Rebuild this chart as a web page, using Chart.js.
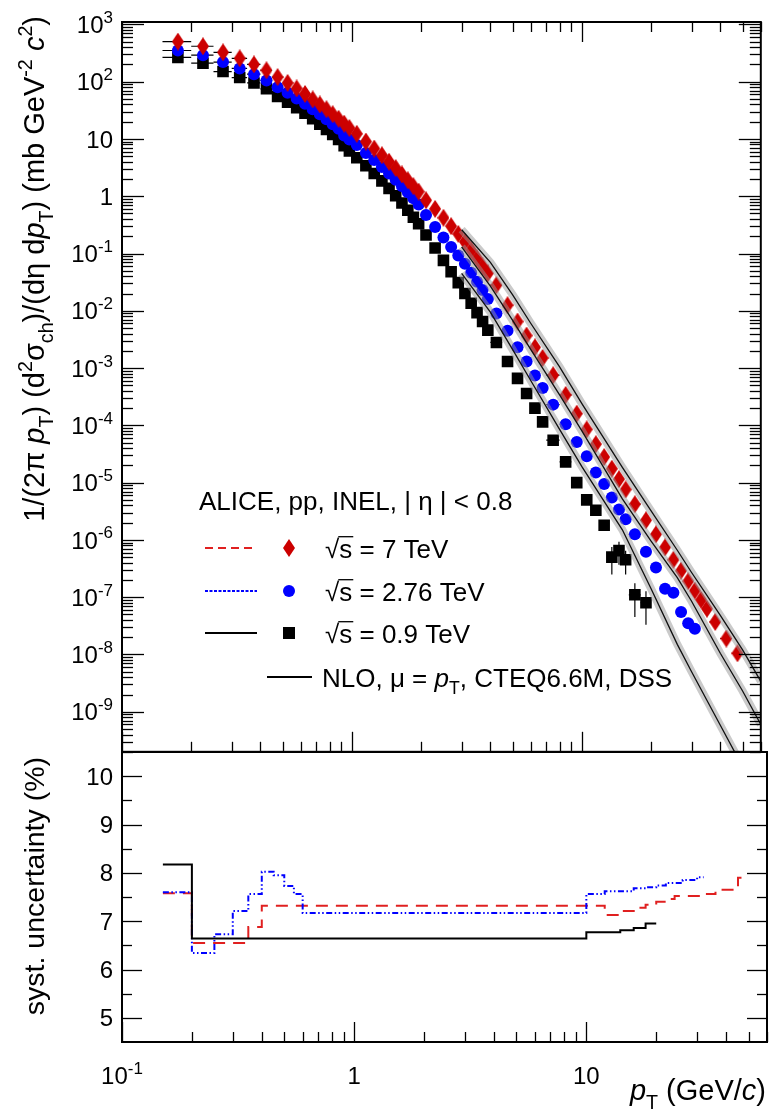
<!DOCTYPE html>
<html>
<head>
<meta charset="utf-8">
<script src="https://cdn.jsdelivr.net/npm/chart.js@4.4.0/dist/chart.umd.min.js"></script>
<style>
  html, body { margin: 0; padding: 0; background: #fff; }
  #wrap { position: relative; width: 769px; height: 1115px; overflow: hidden; }
  #top { position: absolute; left: 0; top: 0; }
  #bot { position: absolute; left: 0; top: 745px; }
</style>
</head>
<body>
<div id="wrap">
  <canvas id="top" width="769" height="760"></canvas>
  <canvas id="bot" width="769" height="370"></canvas>
</div>
<script>
// pT bin edges (GeV/c)
const ptEdges = [0.15, 0.2, 0.25, 0.3, 0.35, 0.4, 0.45, 0.5, 0.55, 0.6, 0.65, 0.7, 0.75, 0.8, 0.85, 0.9, 0.95, 1.0,
  1.1, 1.2, 1.3, 1.4, 1.5, 1.6, 1.7, 1.8, 1.9, 2.0,
  2.2, 2.4, 2.6, 2.8, 3.0, 3.2, 3.4, 3.6, 3.8, 4.0,
  4.5, 5.0, 5.5, 6.0, 6.5, 7.0, 8, 9, 10,
  11, 12, 13, 14, 15, 16, 18, 20,
  22, 24, 26, 28, 30, 32, 34, 36, 40, 45, 50];

// invariant cross sections (mb GeV^-2 c^2)
const spec7 = [500, 415, 325, 255, 200, 158, 120, 95, 76, 61, 49, 40, 33, 27, 22.5, 18.5, 15.5,
  12.3, 9.0, 6.8, 5.2, 4.0, 3.1, 2.4, 1.9, 1.5, 1.2,
  0.85, 0.6, 0.42, 0.30, 0.22, 0.16, 0.115, 0.083, 0.060, 0.045,
  0.028, 0.0125, 0.0065, 0.0037, 0.0023, 0.0015, 7.5e-4, 3.4e-4, 1.6e-4,
  8.5e-5, 4.7e-5, 2.8e-5, 1.75e-5, 1.15e-5, 7.6e-6, 4.2e-6, 2.2e-6,
  1.25e-6, 7.4e-7, 4.5e-7, 2.9e-7, 1.9e-7, 1.3e-7, 9e-8, 6.3e-8, 3.7e-8, 1.9e-8, 1.05e-8];
const spec276 = [350, 290, 220, 170, 135, 105, 80, 64, 51, 41, 33, 27, 22, 18, 15, 11.5, 9.8,
  7.8, 5.7, 4.3, 3.25, 2.5, 1.93, 1.5, 1.17, 0.92, 0.72,
  0.47, 0.29, 0.19, 0.13, 0.092, 0.066, 0.046, 0.032, 0.023, 0.016,
  0.009, 0.0045, 0.0023, 0.0013, 7.4e-4, 4.5e-4, 2.3e-4, 1.05e-4, 5.1e-5,
  2.9e-5, 1.5e-5, 9.5e-6, 5.5e-6, 3.4e-6, 2.3e-6, 1.25e-6, 6.2e-7,
  3.3e-7, 1.4e-7, 1.2e-7, 5.5e-8, 3.5e-8, 2.8e-8];
const spec09 = [265, 210, 150, 118, 95, 75, 55, 44, 35, 28, 22.5, 18, 14.7, 12, 9.8, 7.6, 6.2,
  4.7, 3.4, 2.5, 1.85, 1.37, 1.02, 0.76, 0.57, 0.43, 0.33,
  0.21, 0.125, 0.076, 0.048, 0.031, 0.020, 0.0135, 0.0093, 0.0065, 0.0046,
  0.0028, 0.0013, 6.6e-4, 3.6e-4, 2.0e-4, 1.15e-4, 5.5e-5, 2.3e-5, 1.0e-5,
  5.0e-6, 3.3e-6, 1.8e-6, 5.0e-7, 6.5e-7, 4.5e-7, 1.1e-7, 8e-8];
// statistical errors of the last bins (absolute)
const errTail276 = [5e-9, 4e-9, 4e-9];
const errTail09 = [3e-7, 3e-7, 2.5e-7, 2.8e-7, 2e-7, 6.5e-8, 4.7e-8];

// NLO pQCD curves
const nloPt = [3, 4, 5, 6, 8, 10, 15, 20, 26, 30, 40, 50, 60];
const nlo7 = [0.26, 0.07, 0.019, 0.006, 0.00105, 2.4e-4, 1.85e-5, 3.2e-6, 6.6e-7, 2.7e-7, 4.8e-8, 1.2e-8, 3.4e-9];
const nlo276 = [0.13, 0.027, 0.0068, 0.0021, 3.4e-4, 8e-5, 5.2e-6, 9.5e-7, 2.2e-7, 8.5e-8, 1.05e-8, 2.3e-9, 6e-10];
const nlo09 = [0.045, 0.0095, 0.0021, 6e-4, 8.5e-5, 1.9e-5, 1.5e-6, 1.4e-7, 1.5e-8, 5e-9, 5.8e-10, 1.1e-10, 2.8e-11];

// systematic uncertainty (%) per pT interval
const sys7Edges = [0.15, 0.2, 0.35, 0.4, 12, 14, 16, 18, 20, 22, 24, 32, 36, 45, 50];
const sys7 = [7.58, 6.55, 6.88, 7.32, 7.13, 7.21, 7.28, 7.34, 7.40, 7.46, 7.52, 7.56, 7.65, 7.9];
const sys276Edges = [0.15, 0.2, 0.25, 0.3, 0.35, 0.4, 0.45, 0.5, 0.55, 0.6, 10, 12, 16, 18, 20, 22, 26, 30, 32];
const sys276 = [7.6, 6.34, 6.73, 7.21, 7.56, 8.02, 7.95, 7.73, 7.56, 7.17, 7.56, 7.62, 7.68, 7.70, 7.74, 7.79, 7.85, 7.91];
const sys09Edges = [0.15, 0.2, 10, 14, 16, 18, 20];
const sys09 = [8.17, 6.64, 6.77, 6.81, 6.86, 6.95];

// tick labels
const specDecades = [-9, -8, -7, -6, -5, -4, -3, -2, -1, 0, 1, 2, 3];
const sysTickLabels = [5, 6, 7, 8, 9, 10];
const ptTickLabels = [0.1, 1, 10];

const FAM = '"Liberation Sans", Arial, Helvetica, sans-serif';
const RED = '#cc0000', BLUE = '#0000ff';

function points(vals, tailErr) {
  const nt = tailErr ? tailErr.length : 0;
  return vals.map((v, i) => {
    const k = i - (vals.length - nt);
    return { x: (ptEdges[i] + ptEdges[i + 1]) / 2, y: v, xlo: ptEdges[i], xhi: ptEdges[i + 1], err: k >= 0 ? tailErr[k] : 0 };
  });
}
function steps(edges, vals) {
  const d = vals.map((v, i) => ({ x: edges[i], y: v }));
  d.push({ x: edges[edges.length - 1], y: vals[vals.length - 1] });
  return d;
}
function curve(xs, ys) { return xs.map((x, i) => ({ x: x, y: ys[i] })); }

function diamond(w, h, color) {
  const c = document.createElement('canvas');
  c.width = w; c.height = h;
  const g = c.getContext('2d');
  g.fillStyle = color;
  g.beginPath();
  g.moveTo(w / 2, 0); g.lineTo(w, h / 2); g.lineTo(w / 2, h); g.lineTo(0, h / 2);
  g.closePath(); g.fill();
  return c;
}
const diamondImg = diamond(12, 18, RED);

// text with sub/superscripts; parts = [[text, mode]]
function rich(ctx, x, y, parts, size, align) {
  const spec = (m) => {
    const small = m === 'sub' || m === 'sup';
    const s = small ? size * 0.68 : size;
    return {
      font: (m === 'i' ? 'italic ' : '') + s + 'px ' + FAM,
      dy: m === 'sub' ? size * 0.3 : m === 'sup' ? -size * 0.42 : 0
    };
  };
  let total = 0;
  parts.forEach(p => { ctx.font = spec(p[1]).font; total += ctx.measureText(p[0]).width; });
  let cx = align === 'right' ? x - total : align === 'center' ? x - total / 2 : x;
  ctx.textAlign = 'left';
  ctx.textBaseline = 'alphabetic';
  parts.forEach(p => {
    const s = spec(p[1]);
    ctx.font = s.font;
    const w = ctx.measureText(p[0]).width;
    ctx.fillText(p[0], cx, y + s.dy);
    if (p[1] === 'ov') {
      ctx.save(); ctx.lineWidth = 1.3; ctx.beginPath();
      ctx.moveTo(cx - 1, y - size * 0.8); ctx.lineTo(cx + w + 1, y - size * 0.8); ctx.stroke(); ctx.restore();
    }
    cx += w;
  });
  return total;
}

function line(ctx, x1, y1, x2, y2) { ctx.beginPath(); ctx.moveTo(x1, y1); ctx.lineTo(x2, y2); ctx.stroke(); }

function logTicks(lo, hi) {
  const out = [];
  for (let d = Math.floor(Math.log10(lo)) - 1; d <= Math.ceil(Math.log10(hi)); d++) {
    for (let m = 1; m <= 9; m++) {
      const v = m * Math.pow(10, d);
      if (v >= lo * 0.999 && v <= hi * 1.001) out.push({ v: v, major: m === 1 });
    }
  }
  return out;
}

function powLabel(ctx, d, xRight, yMid, xCenter) {
  const base = d === 0 ? '1' : '10';
  const exp = (d === 0 || d === 1) ? '' : String(d);
  ctx.font = '24px ' + FAM;
  const wb = ctx.measureText(base).width;
  ctx.font = '17px ' + FAM;
  const we = exp ? ctx.measureText(exp).width : 0;
  const x0 = xCenter !== undefined ? xCenter - (wb + we) / 2 : xRight - wb - we;
  ctx.textAlign = 'left'; ctx.textBaseline = 'alphabetic';
  ctx.font = '24px ' + FAM;
  ctx.fillText(base, x0, yMid + 8.6);
  if (exp) { ctx.font = '17px ' + FAM; ctx.fillText(exp, x0 + wb, yMid - 1.5); }
}

// ---------- error bars (drawn under markers) ----------
const errorBars = {
  id: 'errorBars',
  beforeDatasetsDraw(chart) {
    const ctx = chart.ctx, xs = chart.scales.x, ys = chart.scales.y, a = chart.chartArea;
    ctx.save();
    ctx.beginPath(); ctx.rect(a.left, a.top, a.right - a.left, a.bottom - a.top); ctx.clip();
    ctx.strokeStyle = '#000'; ctx.lineWidth = 1.2;
    chart.data.datasets.forEach(ds => {
      if (!ds.errBars) return;
      ds.data.forEach(p => {
        const py = ys.getPixelForValue(p.y);
        line(ctx, xs.getPixelForValue(p.xlo), py, xs.getPixelForValue(p.xhi), py);
        if (p.err > 0) {
          const px = xs.getPixelForValue(p.x);
          const lo = Math.max(p.y - p.err, ys.min);
          line(ctx, px, ys.getPixelForValue(p.y + p.err), px, ys.getPixelForValue(lo));
        }
      });
    });
    ctx.restore();
  }
};

// ---------- frame, ticks, labels, legend of the spectrum panel ----------
const topDecor = {
  id: 'topDecor',
  afterDraw(chart) {
    const ctx = chart.ctx, xs = chart.scales.x, ys = chart.scales.y;
    const { left, right, top, bottom } = chart.chartArea;
    ctx.save();
    ctx.strokeStyle = '#000'; ctx.fillStyle = '#000'; ctx.lineWidth = 1.3;
    logTicks(ys.min, ys.max).forEach(t => {
      const py = Math.round(ys.getPixelForValue(t.v)) + 0.5;
      const L = t.major ? 22 : 11;
      line(ctx, left, py, left + L, py);
      line(ctx, right, py, right - L, py);
    });
    logTicks(xs.min, xs.max).forEach(t => {
      const px = Math.round(xs.getPixelForValue(t.v)) + 0.5;
      const L = t.major ? 20 : 10;
      line(ctx, px, top, px, top + L);
      line(ctx, px, bottom, px, bottom - L);
    });
    ctx.lineWidth = 2;
    ctx.strokeRect(left, top, right - left, bottom - top);

    specDecades.forEach(d => powLabel(ctx, d, 113, ys.getPixelForValue(Math.pow(10, d))));

    // y title
    ctx.save();
    ctx.translate(44, 16);
    ctx.rotate(-Math.PI / 2);
    rich(ctx, 0, 0, [['1/(2\u03c0 ', 'n'], ['p', 'i'], ['T', 'sub'], [') (d', 'n'], ['2', 'sup'], ['\u03c3', 'n'], ['ch', 'sub'],
      [')/(d\u03b7 d', 'n'], ['p', 'i'], ['T', 'sub'], [') (mb GeV', 'n'], ['-2', 'sup'], [' ', 'n'], ['c', 'i'], ['2', 'sup'], [')', 'n']], 29, 'right');
    ctx.restore();

    // legend
    const fs = 26;
    rich(ctx, 199, 510, [['ALICE, pp, INEL, | \u03b7 | < 0.8', 'n']], fs, 'left');
    const rows = [
      { y: 548, color: '#e02020', dash: [8, 5], mark: 'd', txt: ' = 7 TeV' },
      { y: 591, color: BLUE, dash: [3, 1.5], mark: 'c', txt: ' = 2.76 TeV' },
      { y: 633, color: '#000', dash: [], mark: 's', txt: ' = 0.9 TeV' }
    ];
    rows.forEach(r => {
      ctx.save();
      ctx.strokeStyle = r.color; ctx.lineWidth = 2; ctx.setLineDash(r.dash);
      line(ctx, 205, r.y, 257, r.y);
      ctx.restore();
      if (r.mark === 'd') ctx.drawImage(diamondImg, 289 - 6, r.y - 9);
      if (r.mark === 'c') { ctx.fillStyle = BLUE; ctx.beginPath(); ctx.arc(289, r.y, 6, 0, 2 * Math.PI); ctx.fill(); }
      if (r.mark === 's') { ctx.fillStyle = '#000'; ctx.fillRect(289 - 6, r.y - 6, 12, 12); }
      ctx.fillStyle = '#000';
      rich(ctx, 325, r.y + 9.5, [['\u221a', 'n'], ['s', 'ov'], [r.txt, 'n']], fs, 'left');
    });
    ctx.lineWidth = 1.8;
    line(ctx, 267, 677, 312, 677);
    rich(ctx, 322, 686.5, [['NLO, \u03bc = ', 'n'], ['p', 'i'], ['T', 'sub'], [', CTEQ6.6M, DSS', 'n']], fs, 'left');
    ctx.restore();
  }
};

// ---------- frame, ticks, labels of the uncertainty panel ----------
const botDecor = {
  id: 'botDecor',
  afterDraw(chart) {
    const ctx = chart.ctx, xs = chart.scales.x, ys = chart.scales.y;
    const { left, right, top, bottom } = chart.chartArea;
    ctx.save();
    ctx.strokeStyle = '#000'; ctx.fillStyle = '#000'; ctx.lineWidth = 1.3;
    for (let v = 5; v <= 10.01; v += 0.5) {
      const py = Math.round(ys.getPixelForValue(v)) + 0.5;
      const L = Math.abs(v - Math.round(v)) < 0.01 ? 20 : 10;
      line(ctx, left, py, left + L, py);
      line(ctx, right, py, right - L, py);
    }
    logTicks(xs.min, xs.max).forEach(t => {
      const px = Math.round(xs.getPixelForValue(t.v)) + 0.5;
      line(ctx, px, bottom, px, bottom - (t.major ? 20 : 10));
    });
    ctx.lineWidth = 2;
    ctx.strokeRect(left, top, right - left, bottom - top);

    ctx.font = '24px ' + FAM; ctx.textAlign = 'right'; ctx.textBaseline = 'alphabetic';
    sysTickLabels.forEach(v => ctx.fillText(String(v), 113, ys.getPixelForValue(v) + 8.6));
    ptTickLabels.forEach(v => {
      const d = Math.round(Math.log10(v));
      powLabel(ctx, d, 0, 330, xs.getPixelForValue(v));
    });
    rich(ctx, 766, 355, [['p', 'i'], ['T', 'sub'], [' (GeV/', 'n'], ['c', 'i'], [')', 'n']], 29, 'right');

    ctx.save();
    ctx.translate(44, 12);
    ctx.rotate(-Math.PI / 2);
    rich(ctx, 0, 0, [['syst. uncertainty (%)', 'n']], 28.5, 'right');
    ctx.restore();
    ctx.restore();
  }
};

const common = {
  responsive: false,
  animation: false,
  events: [],
  plugins: { legend: { display: false }, tooltip: { enabled: false } }
};

new Chart(document.getElementById('top'), {
  type: 'line',
  data: {
    datasets: [
      { data: curve(nloPt, nlo7), borderColor: '#111', borderWidth: 1.3, pointRadius: 0, order: 0, clip: 0 },
      { data: curve(nloPt, nlo276), borderColor: '#111', borderWidth: 1.3, pointRadius: 0, order: 0, clip: 0 },
      { data: curve(nloPt, nlo09), borderColor: '#111', borderWidth: 1.3, pointRadius: 0, order: 0, clip: 0 },
      { data: curve(nloPt, nlo7), borderColor: 'rgba(150,150,150,0.5)', borderWidth: 8, pointRadius: 0, order: 1, clip: 0 },
      { data: curve(nloPt, nlo276), borderColor: 'rgba(150,150,150,0.5)', borderWidth: 8, pointRadius: 0, order: 1, clip: 0 },
      { data: curve(nloPt, nlo09), borderColor: 'rgba(150,150,150,0.5)', borderWidth: 8, pointRadius: 0, order: 1, clip: 0 },
      { data: points(spec7), showLine: false, pointStyle: diamondImg, pointRadius: 6, order: 2, errBars: true },
      { data: points(spec276, errTail276), showLine: false, pointStyle: 'circle', pointRadius: 6, pointBackgroundColor: BLUE, pointBorderWidth: 0, order: 3, errBars: true },
      { data: points(spec09, errTail09), showLine: false, pointStyle: 'rect', pointRadius: 8.2, pointBackgroundColor: '#000', pointBorderWidth: 0, order: 4, errBars: true }
    ]
  },
  options: Object.assign({}, common, {
    layout: { padding: { left: 122, top: 22, right: 2, bottom: 8 } },
    scales: {
      x: { type: 'logarithmic', min: 0.1, max: 60, display: false },
      y: { type: 'logarithmic', min: 2e-10, max: 1100, display: false }
    }
  }),
  plugins: [errorBars, topDecor]
});

new Chart(document.getElementById('bot'), {
  type: 'line',
  data: {
    datasets: [
      { data: steps(sys09Edges, sys09), borderColor: '#000', borderWidth: 2, stepped: 'before', pointRadius: 0 },
      { data: steps(sys276Edges, sys276), borderColor: BLUE, borderWidth: 2, borderDash: [6, 2.5, 1.5, 2.5, 1.5, 2.5], stepped: 'before', pointRadius: 0 },
      { data: steps(sys7Edges, sys7), borderColor: '#e02020', borderWidth: 2, borderDash: [12, 8], stepped: 'before', pointRadius: 0 }
    ]
  },
  options: Object.assign({}, common, {
    layout: { padding: { left: 122, top: 7, right: 2, bottom: 73 } },
    scales: {
      x: { type: 'logarithmic', min: 0.1, max: 60, display: false },
      y: { type: 'linear', min: 4.5, max: 10.5, display: false }
    }
  }),
  plugins: [botDecor]
});
</script>
</body>
</html>
